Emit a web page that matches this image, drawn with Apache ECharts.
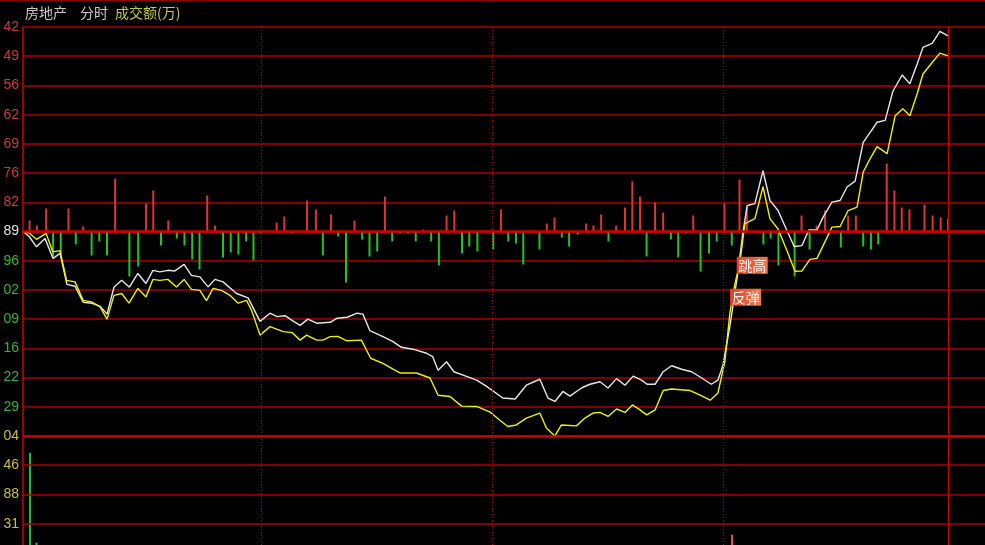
<!DOCTYPE html>
<html><head><meta charset="utf-8">
<script src="https://cdn.jsdelivr.net/npm/echarts@6/dist/echarts.min.js"></script>
<style>html,body{margin:0;padding:0;background:#000;}#c{width:985px;height:545px;}</style>
</head><body><div id="c"></div>
<script>
// ---- data ----
const prevClose = 1256.89;
const priceStep = 14 / 15;
const priceTickLabels = ['42','49','56','62','69','76','82','89','96','02','09','16','22','29',''];
const volTickLabels = ['04','46','88','31'];
const volTickValues = [7, 6, 5, 4];
const sessionMarks = [61.75, 121.7, 181.8];
const lastMinute = 240;
const xMaxMinute = 249.6;

// index (white) : [minute, change in points]
const indexLine = [[0,0],[1.6,-0.16],[3.5,-0.49],[5.7,-0.22],[7.8,-0.86],[9.6,-0.70],[11.4,-1.69],[13.5,-1.75],[15.6,-2.26],[17.8,-2.29],[20.0,-2.39],[21.8,-2.64],[23.6,-1.78],[25.6,-1.56],[27.6,-1.78],[29.8,-1.34],[31.9,-1.66],[33.7,-1.24],[35.5,-1.29],[37.6,-1.24],[39.4,-1.26],[41.8,-1.05],[43.7,-1.40],[45.9,-1.45],[48.0,-1.77],[49.8,-1.53],[51.9,-1.61],[55.4,-1.98],[58.4,-2.12],[61.5,-2.87],[64.1,-2.61],[65.9,-2.72],[68.0,-2.69],[69.8,-2.84],[71.9,-3.00],[73.9,-2.80],[76.2,-2.93],[79.7,-2.90],[81.5,-2.77],[84.1,-2.74],[86.7,-2.61],[88.2,-2.64],[90.0,-3.17],[93.4,-3.36],[96.0,-3.52],[98.2,-3.70],[101.2,-3.76],[104.7,-3.89],[106.3,-4.00],[107.7,-4.43],[109.9,-4.16],[111.8,-4.48],[114.2,-4.59],[117.7,-4.75],[120.3,-4.95],[121.2,-5.03],[124.5,-5.32],[127.7,-5.35],[130.6,-4.91],[134.1,-4.72],[136.2,-5.32],[138.0,-5.43],[140.1,-5.11],[141.9,-5.26],[144.9,-5.00],[147.1,-4.88],[149.7,-4.80],[151.8,-5.00],[154.0,-4.70],[156.2,-4.91],[158.3,-4.62],[160.5,-4.75],[161.9,-4.88],[164.0,-4.88],[166.1,-4.48],[168.3,-4.29],[170.9,-4.40],[173.5,-4.48],[176.1,-4.68],[178.6,-4.88],[180.3,-4.75],[181.6,-4.27],[183.4,-3.03],[185.3,-1.47],[186.8,-0.03],[187.9,0.83],[189.9,0.89],[192.0,1.94],[193.8,0.99],[195.9,0.67],[198.2,0.03],[200.1,-0.48],[202.1,-0.45],[203.9,0.05],[206.0,0.05],[207.6,0.46],[209.9,0.94],[212.0,0.99],[213.8,1.42],[215.9,1.61],[218.0,2.85],[219.8,3.17],[221.6,3.49],[223.7,3.55],[225.7,4.48],[228.1,5.00],[230.1,4.72],[232.0,5.35],[233.5,5.88],[235.9,6.01],[237.9,6.39],[240.0,6.25]];

// average (yellow) : [minute, change in points]
const avgLine = [[0,0],[1.6,-0.05],[3.5,-0.25],[6.0,-0.06],[7.7,-0.65],[9.6,-0.61],[11.3,-1.56],[13.5,-1.61],[15.6,-2.20],[17.8,-2.25],[20.0,-2.41],[21.8,-2.80],[23.6,-2.04],[25.6,-1.98],[27.5,-2.29],[29.8,-1.82],[31.9,-2.09],[33.7,-1.53],[35.5,-1.56],[37.6,-1.53],[39.8,-1.77],[41.8,-1.53],[43.7,-1.85],[45.9,-1.88],[47.6,-2.21],[49.3,-1.82],[51.5,-1.88],[53.7,-2.04],[55.8,-2.29],[58.0,-2.20],[59.3,-2.52],[61.5,-3.31],[64.1,-3.04],[67.5,-3.20],[69.8,-3.23],[71.9,-3.47],[73.6,-3.31],[76.2,-3.47],[77.8,-3.47],[79.7,-3.36],[81.7,-3.35],[83.9,-3.49],[87.8,-3.47],[90.2,-4.05],[93.4,-4.21],[96.0,-4.40],[97.8,-4.52],[102.1,-4.52],[105.6,-4.68],[107.7,-5.23],[110.8,-5.27],[113.8,-5.58],[117.7,-5.59],[121.2,-5.77],[123.8,-6.04],[125.8,-6.23],[128.0,-6.18],[130.6,-5.96],[134.1,-5.80],[135.8,-6.28],[138.0,-6.53],[139.7,-6.18],[143.6,-6.21],[145.8,-5.96],[147.9,-5.80],[149.7,-5.78],[151.8,-5.91],[154.0,-5.67],[156.2,-5.78],[158.1,-5.54],[160.1,-5.70],[161.8,-5.86],[164.0,-5.70],[166.1,-5.08],[168.3,-5.03],[173.1,-5.08],[175.7,-5.23],[178.3,-5.39],[180.3,-5.16],[182.1,-4.16],[183.4,-2.61],[184.7,-1.69],[186.0,-0.99],[187.3,0.25],[189.9,0.41],[192.0,1.43],[193.8,0.41],[195.9,0.08],[198.2,-0.61],[200.3,-1.27],[202.1,-1.26],[204.2,-0.89],[206.0,-0.86],[207.6,-0.45],[209.9,0.14],[212.0,0.16],[214.1,0.67],[216.4,0.78],[218.0,1.90],[219.8,2.33],[221.6,2.71],[224.2,2.49],[226.3,3.70],[228.3,3.92],[230.1,3.70],[232.0,4.40],[233.5,5.03],[235.9,5.40],[237.9,5.70],[240.0,5.61]];

// buy/sell strength bars : [minute, strength]
const strengthBars = [[1.7,5.5],[3.6,3],[6.0,11.5],[7.8,-12.5],[9.8,-11.5],[11.8,11.5],[13.7,-6.5],[15.6,2.5],[17.8,-12],[19.8,-5],[21.8,-12],[23.9,26.5],[25.6,0.5],[27.6,-22.5],[29.9,-17.5],[31.9,14],[33.8,20.5],[35.8,-7],[37.7,5.5],[39.9,-3.5],[41.9,-7],[43.9,-14],[45.8,-19],[47.8,18],[49.8,3],[51.9,-13],[53.9,-10.5],[55.9,-11.5],[57.9,-5],[59.8,-14.5],[61.7,-1],[65.8,4.5],[67.8,7.5],[69.7,-1],[73.7,15.5],[76.0,11],[77.8,-12],[79.9,8.5],[81.8,-2.5],[83.8,-25.5],[86.0,5.5],[88.0,-4],[89.9,-12.5],[91.9,-10],[93.9,17.5],[95.8,-5],[97.8,-1],[99.9,-1],[101.9,-5],[103.9,1],[105.9,-5],[107.9,-17],[109.9,8],[111.9,10.5],[113.9,-11],[115.8,-7.5],[117.9,-10],[120.3,0.5],[122.0,-9],[124.0,11],[125.9,-5],[127.9,-6],[129.8,-16.5],[131.8,0.5],[134.0,-9],[135.9,4],[137.9,7],[139.8,-3],[141.7,-7.5],[143.9,-1.5],[146.1,4],[148.0,3],[150.0,8.5],[151.9,-5],[153.9,3],[156.2,12],[158.1,25],[160.1,17.5],[161.8,-12.5],[164.0,14.5],[166.1,9.5],[168.1,-4],[170.0,-13],[172.0,-1],[173.9,8],[175.8,-20],[178.0,-11],[180.0,-5],[182.0,14],[183.9,-7],[185.9,26],[187.8,12.5],[192.1,-6.5],[194.0,-3.5],[196.0,-17],[200.2,-22.5],[202.0,8],[204.1,-9],[205.9,3],[208.1,10.5],[212.2,-8],[214.1,8],[216.1,8],[218.0,-7.5],[220.0,-9],[221.9,-6.5],[224.1,34],[226.1,20.5],[228.0,12],[230.0,11],[233.9,13.5],[236.0,8],[238.1,7],[240.0,6.5]];

// turnover (visible part) : [minute, amount, up(1)/down(-1)]
const volumes = [[1.8,6.42,-1],[3.5,3.35,-1],[184.0,3.62,1]];

const annotations = [{name:'跳高', t:189.2, v:-1.08},{name:'反弹', t:187.5, v:-2.10}];

// ---- chart ----
const RED = '#b00000', RED2 = '#d00000';
const pMin = -7 * priceStep, pMax = 7 * priceStep;
const volGridHeight = 109, rowPx = 409 / 14;
const volMax = 7, volMin = volMax - volGridHeight / rowPx;
const FONT = 'Liberation Sans';
const chart = echarts.init(document.getElementById('c'), null, {renderer:'canvas'});

function priceColor(v){
  if (Math.abs(v) < 1e-6) return '#e0e0e0';
  return v > 0 ? '#d03838' : '#30b830';
}

const sessionLines = sessionMarks.map(m => ({xAxis:m, lineStyle:{type:[1,2], color:'#c00000', width:1}}));
const lastLine = {xAxis:lastMinute, lineStyle:{type:'solid', color:RED2, width:1}};

const option = {
  backgroundColor:'#000',
  animation:false,
  grid:[
    {left:23, right:0, top:27, height:409},
    {left:23, right:0, top:436, height:volGridHeight}
  ],
  xAxis:[
    {type:'value', gridIndex:0, min:0, max:xMaxMinute, show:false},
    {type:'value', gridIndex:1, min:0, max:xMaxMinute, show:false}
  ],
  yAxis:[
    {type:'value', gridIndex:0, min:pMin, max:pMax, interval:priceStep,
      axisLine:{show:true, lineStyle:{color:RED2, width:1.5}}, axisTick:{show:false},
      splitLine:{show:true, lineStyle:{color:RED, width:1.5}},
      axisLabel:{show:true, margin:4, fontSize:14, fontFamily:FONT, showMinLabel:false, showMaxLabel:true,
        formatter:(v)=>{const i=Math.round((pMax - v)/priceStep); return priceTickLabels[i]||'';},
        color:(v)=>priceColor(v)}
    },
    {type:'value', gridIndex:0, min:-102.25, max:102.25, show:false},
    {type:'value', gridIndex:1, min:volMin, max:volMax,
      axisLine:{show:true, lineStyle:{color:RED2, width:1.5}}, axisTick:{show:false},
      splitLine:{show:false},
      axisLabel:{show:true, margin:4, fontSize:14, fontFamily:FONT, color:'#c8c040',
        customValues:volTickValues,
        formatter:(v)=>{const i=volTickValues.findIndex(x=>Math.abs(x-v)<1e-6); return i>=0?volTickLabels[i]:'';}}
    }
  ],
  series:[
    {type:'line', xAxisIndex:0, yAxisIndex:0, data:[[0,0]], symbol:'none', lineStyle:{opacity:0}, z:1, silent:true,
      markLine:{silent:true, symbol:'none', label:{show:false}, animation:false,
        data:[
          {yAxis:0, lineStyle:{type:'solid', color:RED2, width:2.5}},
          {yAxis:pMin, lineStyle:{type:'solid', color:RED2, width:2.5}},
          ...sessionLines, lastLine
        ]}},
    {type:'line', xAxisIndex:1, yAxisIndex:2, data:[[0,volMax]], symbol:'none', lineStyle:{opacity:0}, z:1, silent:true,
      markLine:{silent:true, symbol:'none', label:{show:false}, animation:false,
        data:[
          ...volTickValues.slice(1).map(v=>({yAxis:v, lineStyle:{type:'solid', color:RED, width:1.5}})),
          ...sessionLines, lastLine]}},
    {type:'bar', xAxisIndex:0, yAxisIndex:1, data:strengthBars, barWidth:2, z:2, silent:true,
      itemStyle:{color:(p)=> p.value[1] >= 0 ? '#e03434' : '#22c422'}},
    {type:'line', xAxisIndex:0, yAxisIndex:0, data:indexLine, symbol:'none', z:3, silent:true,
      lineStyle:{color:'#e6e6e6', width:1.4},
      markPoint:{silent:true, symbol:'rect', symbolSize:[31,17], z:10,
        itemStyle:{color:new echarts.graphic.LinearGradient(0,0,1,0,[{offset:0,color:'#e4402a'},{offset:1,color:'#f07a4e'}])},
        label:{show:true, color:'#fff4ea', fontSize:14, fontFamily:'Noto Sans CJK SC', formatter:'{b}'},
        data:annotations.map(a=>({name:a.name, coord:[a.t, a.v]}))}},
    {type:'line', xAxisIndex:0, yAxisIndex:0, data:avgLine, symbol:'none', z:4, silent:true,
      lineStyle:{color:'#f0f000', width:1.4}},
    {type:'bar', xAxisIndex:1, yAxisIndex:2, data:volumes.map(d=>({value:[d[0], d[1]], itemStyle:{color: d[2] > 0 ? '#e85a6a' : '#28c028'}})),
      barWidth:2, z:2, silent:true}
  ],
  graphic:[
    {type:'line', shape:{x1:0, y1:0.5, x2:985, y2:0.5}, style:{stroke:'#900000', lineWidth:1}, silent:true},
    {type:'text', left:25, top:6, style:{text:'房地产', fill:'#c8c8c8', font:'14px "Noto Sans CJK SC"'}, silent:true},
    {type:'text', left:80, top:6, style:{text:'分时', fill:'#c8c8c8', font:'14px "Noto Sans CJK SC"'}, silent:true},
    {type:'text', left:115, top:6, style:{text:'成交额(万)', fill:'#c8c84a', font:'14px "Noto Sans CJK SC"'}, silent:true}
  ]
};
chart.setOption(option);
</script>
</body></html>
